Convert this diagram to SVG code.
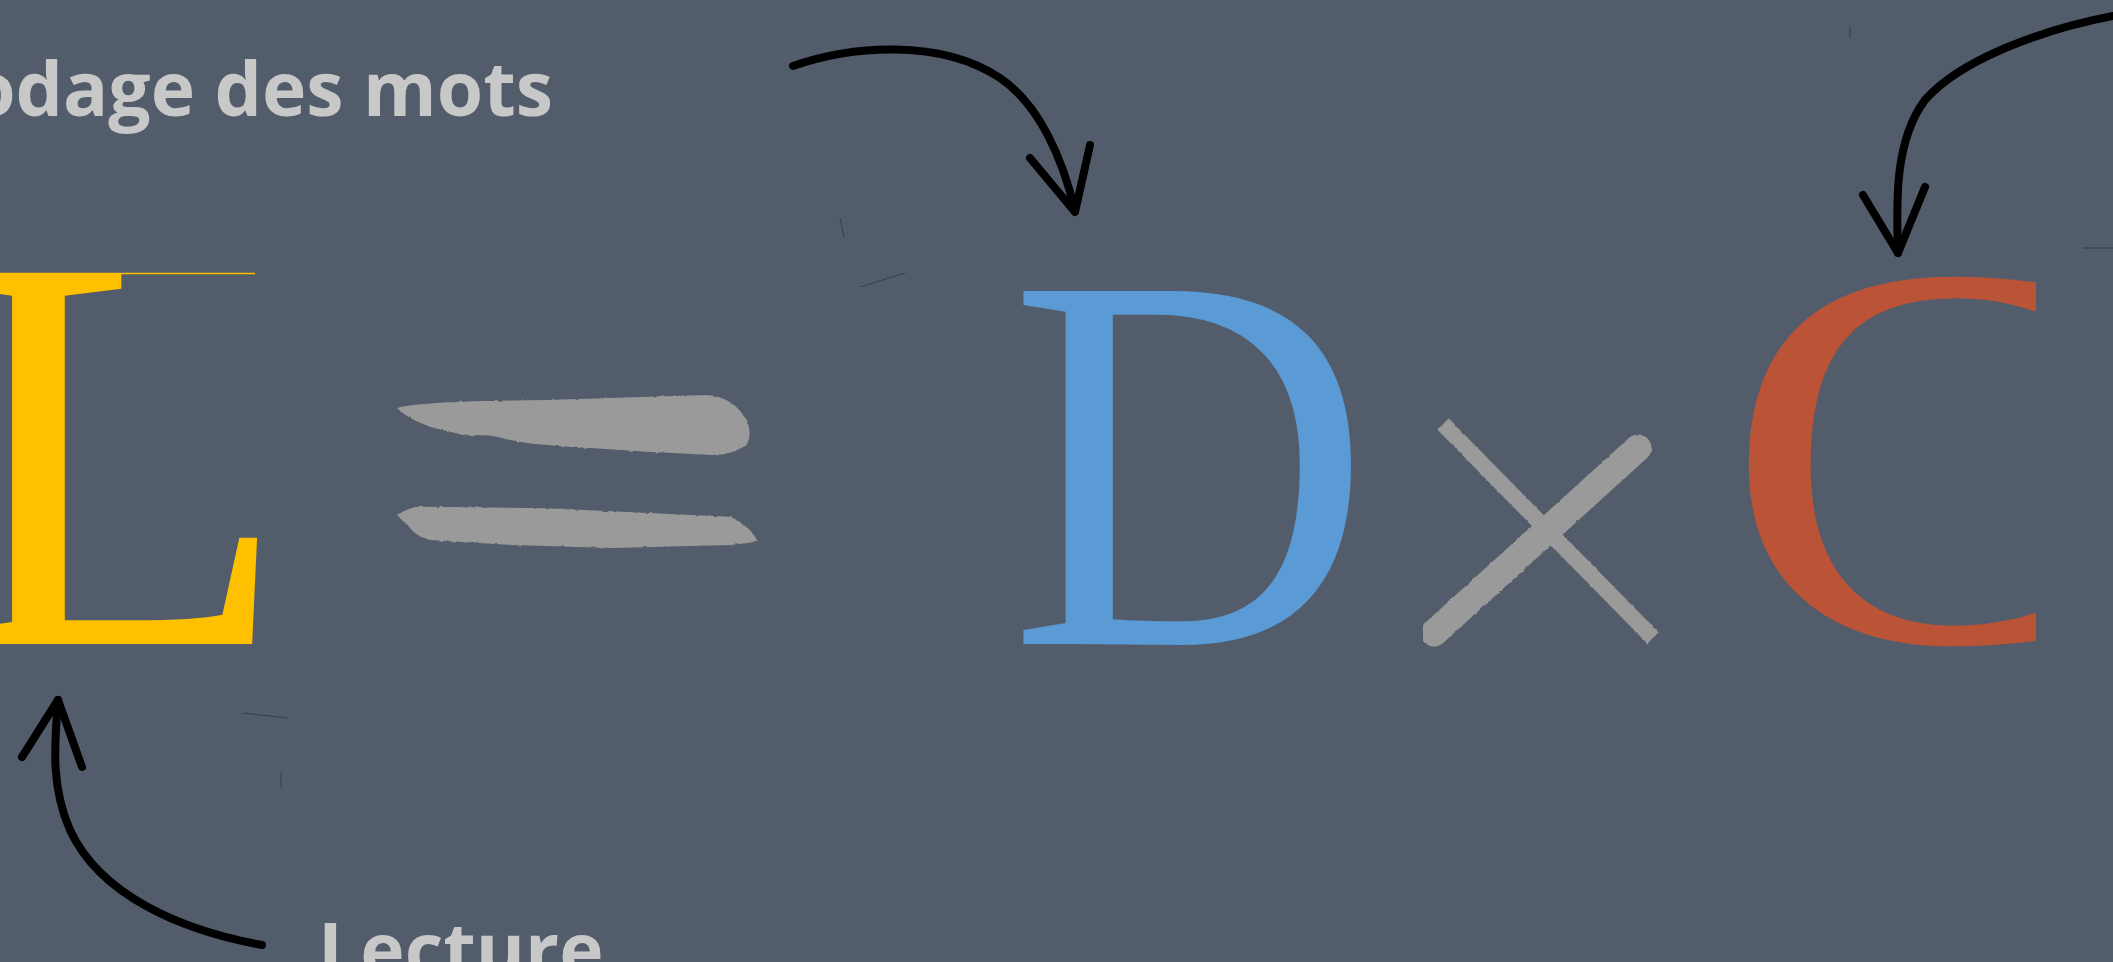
<svg xmlns="http://www.w3.org/2000/svg" width="2113" height="962" viewBox="0 0 2113 962">
  <defs>
    <style>
      .lbl { font-family: "Open Sans", "Liberation Sans", sans-serif; font-weight: 700; font-size: 75px; fill: #c8c8c8; }
      .big { font-family: "Liberation Serif", "DejaVu Serif", serif; }
      .arrow { fill: none; stroke: #000; stroke-width: 8; stroke-linecap: round; stroke-linejoin: round; }
      .brush { fill: #9a9a9a; }
      .brushline { fill: none; stroke: #9a9a9a; }
      .faint { stroke: #2a3140; stroke-width: 1; opacity: 0.7; }
    </style>
    <filter id="rough" x="-5%" y="-20%" width="110%" height="140%">
      <feTurbulence type="fractalNoise" baseFrequency="0.2" numOctaves="2" seed="4" result="n"/>
      <feDisplacementMap in="SourceGraphic" in2="n" scale="2.5" xChannelSelector="R" yChannelSelector="G"/>
    </filter>
    <clipPath id="clipC"><rect x="1700" y="200" width="336" height="500"/></clipPath>
  </defs>
  <rect width="2113" height="962" fill="#535c6b"/>

  <g id="label-decodage">
    <text class="lbl" x="553" y="116" text-anchor="end">Décodage des mots</text>
  </g>
  <g id="label-lecture">
    <text class="lbl" x="318" y="977">Lecture</text>
  </g>

  <g id="letter-L">
    <line x1="0" y1="273.5" x2="255" y2="273.5" stroke="#ffc000" stroke-width="1.5"/>
    <text class="big" x="0" y="644" style="font-size:565px" fill="#ffc000" transform="translate(-51 0) scale(0.99 1)">L</text>
  </g>

  <g id="equals" filter="url(#rough)">
    <path class="brush" d="M397,408 C420,402 470,401 546.7,400 L706.7,395 C725,396 738,405 746.7,420 C751,430 750,440 746.7,445 C735,452 725,455 713,455 L646.7,451.7 L546.7,445 C520,443 505,439 496.7,436.7 C485,434 470,436 463,435 L430,426.7 C415,421 405,416 397,408 Z"/>
    <path class="brush" d="M397,515 C405,510 412,507 420,506.7 L546.7,508.3 L730,516.7 C742,522 752,530 758,541.7 L730,545 L613,548 L513,545 L430,540 C420,537 414,533 410,528 Z"/>
  </g>

  <g id="letter-D">
    <text class="big" x="0" y="644" style="font-size:539px" fill="#5b9bd5" transform="translate(1009 0) scale(0.93 1)">D</text>
  </g>

  <g id="times" filter="url(#rough)">
    <line class="brushline" x1="1443" y1="424" x2="1653" y2="638" stroke-width="16"/>
    <line class="brushline" x1="1638" y1="448" x2="1434" y2="633" stroke-width="27" stroke-linecap="round"/>
  </g>

  <g id="letter-C" clip-path="url(#clipC)">
    <text class="big" x="0" y="641" style="font-size:550px" fill="#bb5337" transform="translate(1724 0) scale(1.1 1)">C</text>
  </g>

  <g id="connectors">
    <path class="arrow" d="M793,66 C850,46 940,38 1000,78 C1040,105 1063,160 1075,211"/>
    <path class="arrow" d="M1030,158 L1075,212 L1090,145"/>
    <path class="arrow" d="M2113,16 C2040,30 1960,60 1925,100 C1895,140 1896,200 1898,253"/>
    <path class="arrow" d="M1863,195 L1898,253 L1925,187"/>
    <path class="arrow" d="M262,945 C180,930 100,895 70,830 C50,785 55,740 58,700"/>
    <path class="arrow" d="M22,757 L58,700 L82,767"/>
  </g>

  <g id="marks">
    <line class="faint" x1="840" y1="218" x2="844" y2="237"/>
    <line class="faint" x1="860" y1="287" x2="905" y2="273"/>
    <line class="faint" x1="1850" y1="27" x2="1850" y2="38"/>
    <line class="faint" x1="243" y1="713" x2="288" y2="718"/>
    <line class="faint" x1="281" y1="772" x2="281" y2="788"/>
    <line class="faint" x1="2083" y1="248" x2="2113" y2="248"/>
  </g>
</svg>
